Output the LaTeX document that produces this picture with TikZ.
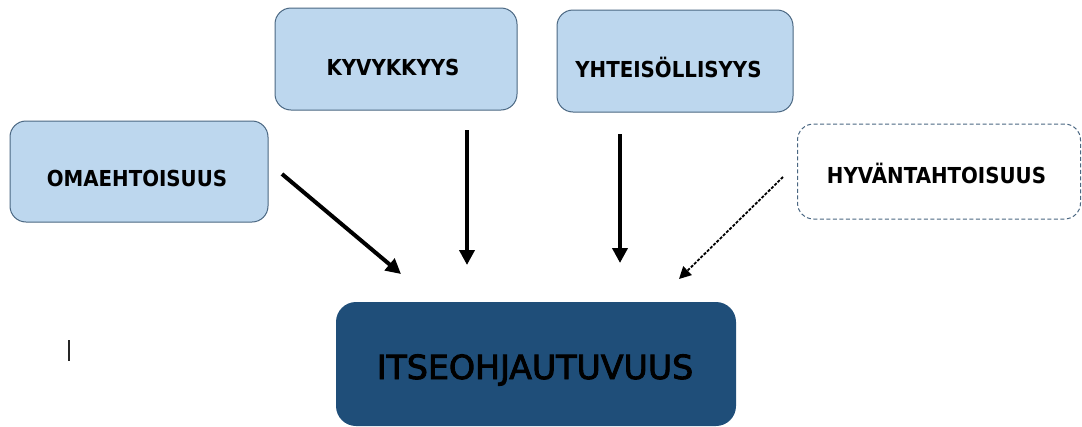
\documentclass[tikz,border=0pt]{standalone}
\usepackage{fontspec}
\setmainfont{DejaVu Sans}
\newfontfamily\labelfont[FakeStretch=0.9]{DejaVu Sans Bold}
\newfontfamily\goalfont{DejaVu Sans}
% fill-and-stroke rendering for a medium-weight look
\newcommand{\heavier}[1]{\special{pdf:literal direct 2 Tr 0.9 w}#1\special{pdf:literal direct 0 Tr}}
\usetikzlibrary{arrows.meta}
\definecolor{boxfill}{HTML}{BDD7EE}
\definecolor{boxline}{HTML}{4A6782}
\definecolor{mainfill}{HTML}{1F4E79}
\tikzset{
  concept/.style={draw=boxline, line width=1pt, fill=boxfill, rounded corners=16pt, inner sep=0pt},
  optional/.style={draw=boxline, line width=1pt, dash pattern=on 4pt off 2.5pt,
    fill=white, rounded corners=16pt, inner sep=0pt},
  goal/.style={fill=mainfill, rounded corners=20pt, inner sep=0pt},
  caption/.style={anchor=base, inner sep=0pt, font=\labelfont\fontsize{22}{26}\selectfont},
  bigcaption/.style={anchor=base, inner sep=0pt, font=\goalfont\fontsize{33.2}{40}\selectfont},
  flow/.style={line width=4pt, -{Triangle[length=15pt,width=15pt]}},
  weakflow/.style={line width=1.8pt, dash pattern=on 3pt off 1.5pt,
    -{Triangle[length=12pt,width=12pt]}}
}
\begin{document}
\begin{tikzpicture}[x=1pt,y=-1pt]
  \useasboundingbox (0,0) rectangle (1082,426);
  % source concepts
  \node[concept, minimum width=258pt, minimum height=101pt] (oma) at (139,171.5) {};
  \node[concept, minimum width=242pt, minimum height=102pt] (kyv) at (396,59) {};
  \node[concept, minimum width=236pt, minimum height=102pt] (yht) at (675,61) {};
  \node[optional, minimum width=283pt, minimum height=95pt] (hyv) at (939,171.5) {};
  % outcome
  \node[goal, minimum width=400pt, minimum height=124pt] (itse) at (536,364) {};
  % box captions, set on their baselines
  \node[caption] (omaT) at (137,186) {OMAEHTOISUUS};
  \node[caption] (kyvT) at (393,75) {KYVYKKYYS};
  \node[caption] (yhtT) at (668.5,77) {YHTEISÖLLISYYS};
  \node[caption] (hyvT) at (936.5,183) {HYVÄNTAHTOISUUS};
  \node[bigcaption] (itseT) at (535,379) {\heavier{ITSEOHJAUTUVUUS}};
  % connector end points
  \coordinate (a1s) at (282,174);  \coordinate (a1e) at (401,274);
  \coordinate (a2s) at (467,130);  \coordinate (a2e) at (467,265);
  \coordinate (a3s) at (620,134);  \coordinate (a3e) at (620,263);
  \coordinate (a4s) at (783,177);  \coordinate (a4e) at (679,279);
  \draw[flow] (a1s) -- (a1e);
  \draw[flow] (a2s) -- (a2e);
  \draw[flow] (a3s) -- (a3e);
  \draw[weakflow] (a4s) -- (a4e);
  % text cursor
  \draw[line width=2pt, black!85] (69,340) -- (69,361);
\end{tikzpicture}
\end{document}
